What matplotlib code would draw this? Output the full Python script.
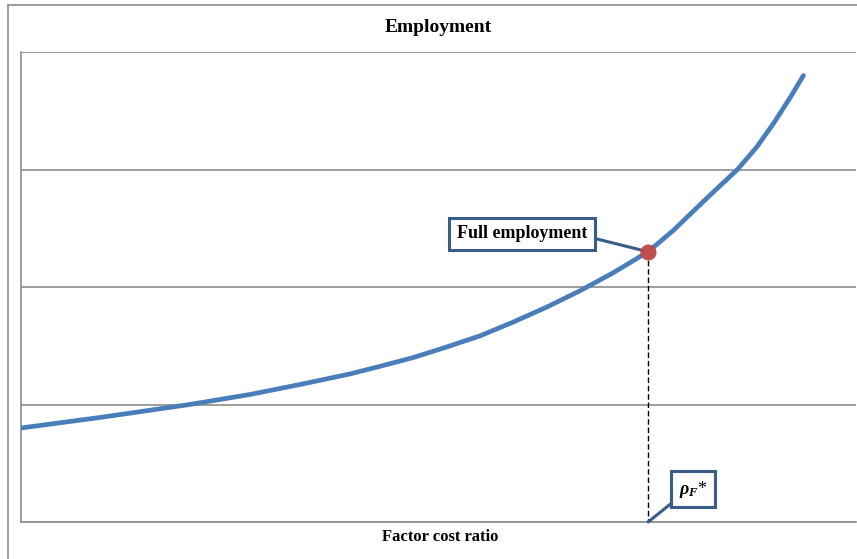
import matplotlib
matplotlib.use("Agg")
import matplotlib.pyplot as plt
from matplotlib.patches import Rectangle

# Data
curve_x = [0.00, 0.95, 2.02, 2.74, 3.34, 3.94, 4.30, 4.70, 5.10, 5.50, 5.89,
           6.30, 6.70, 7.09, 7.51, 7.81, 8.22, 8.58, 8.81, 9.01, 9.21, 9.37]
curve_y = [0.80, 0.89, 1.00, 1.085, 1.17, 1.26, 1.325, 1.40, 1.49, 1.585, 1.70,
           1.83, 1.97, 2.12, 2.30, 2.48, 2.76, 3.00, 3.19, 3.39, 3.61, 3.80]
point_x = [7.51]
point_y = [2.30]
y_ticks = [0, 1, 2, 3, 4]
title = "Employment"
xlabel = "Factor cost ratio"
point_label = "Full employment"
rho_label = r"$\rho_F$*"

plt.rcParams['font.family'] = ['Liberation Serif', 'DejaVu Serif']
plt.rcParams['mathtext.fontset'] = 'custom'
plt.rcParams['mathtext.it'] = 'Liberation Serif:italic:bold'
plt.rcParams['mathtext.rm'] = 'Liberation Serif:bold'

W, H = 857, 559
fig = plt.figure(figsize=(W / 100, H / 100), dpi=100)

# outer chart border
fig.patches.append(Rectangle((8 / W, -0.2), 1.2, 1.2 - 5 / H, transform=fig.transFigure,
                             fill=False, edgecolor='#8c8c8c', linewidth=1.2))

ax = fig.add_axes([21 / W, 1 - 522 / H, (856 - 21) / W, (522 - 52) / H])
ax.set_xlim(0, 10)
ax.set_ylim(0, 4)
ax.set_yticks(y_ticks)
ax.set_xticks([])
ax.tick_params(axis='y', length=0, labelleft=False)
ax.yaxis.grid(True, color='#8c8c8c', linewidth=1.2)
ax.set_axisbelow(True)
for s in ['top', 'right']:
    ax.spines[s].set_visible(False)
for s in ['left', 'bottom']:
    ax.spines[s].set_color('#8c8c8c')
    ax.spines[s].set_linewidth(1.2)

ax.plot(curve_x, curve_y, color='#4a7ebb', linewidth=3.4, solid_capstyle='round',
        solid_joinstyle='round', zorder=3)

# dashed drop line
ax.plot([point_x[0], point_x[0]], [point_y[0], 0], color='black', linestyle=(0, (4, 2)),
        linewidth=1.0, zorder=2)

ax.scatter(point_x, point_y, s=120, color='#c0504d', edgecolors='#b04542', linewidth=0.5, zorder=5)

box_style = dict(boxstyle='square,pad=0.42', facecolor='white', edgecolor='#385d8a', linewidth=2.2)
ax.annotate(point_label, xy=(point_x[0], point_y[0]), xytext=(522, 559 - 234),
            textcoords='figure pixels', ha='center', va='center', fontsize=13,
            fontweight='bold', bbox=box_style,
            arrowprops=dict(arrowstyle='-', color='#385d8a', linewidth=2.2,
                            shrinkA=0, shrinkB=0, relpos=(1, 0.35)), zorder=4)

ax.annotate(rho_label, xy=(point_x[0], 0), xytext=(693, 559 - 489),
            textcoords='figure pixels', ha='center', va='center', fontsize=13,
            bbox=dict(boxstyle='square,pad=0.4', facecolor='white', edgecolor='#385d8a',
                      linewidth=2.2),
            arrowprops=dict(arrowstyle='-', color='#385d8a', linewidth=2.2,
                            shrinkA=0, shrinkB=0, relpos=(0.05, 0.15)), zorder=4)

fig.text(438 / W, 1 - 27 / H, title, ha='center', va='center', fontsize=14, fontweight='bold')
fig.text(440 / W, 1 - 537 / H, xlabel, ha='center', va='center', fontsize=12, fontweight='bold')

fig.savefig('out.png', dpi=100)
